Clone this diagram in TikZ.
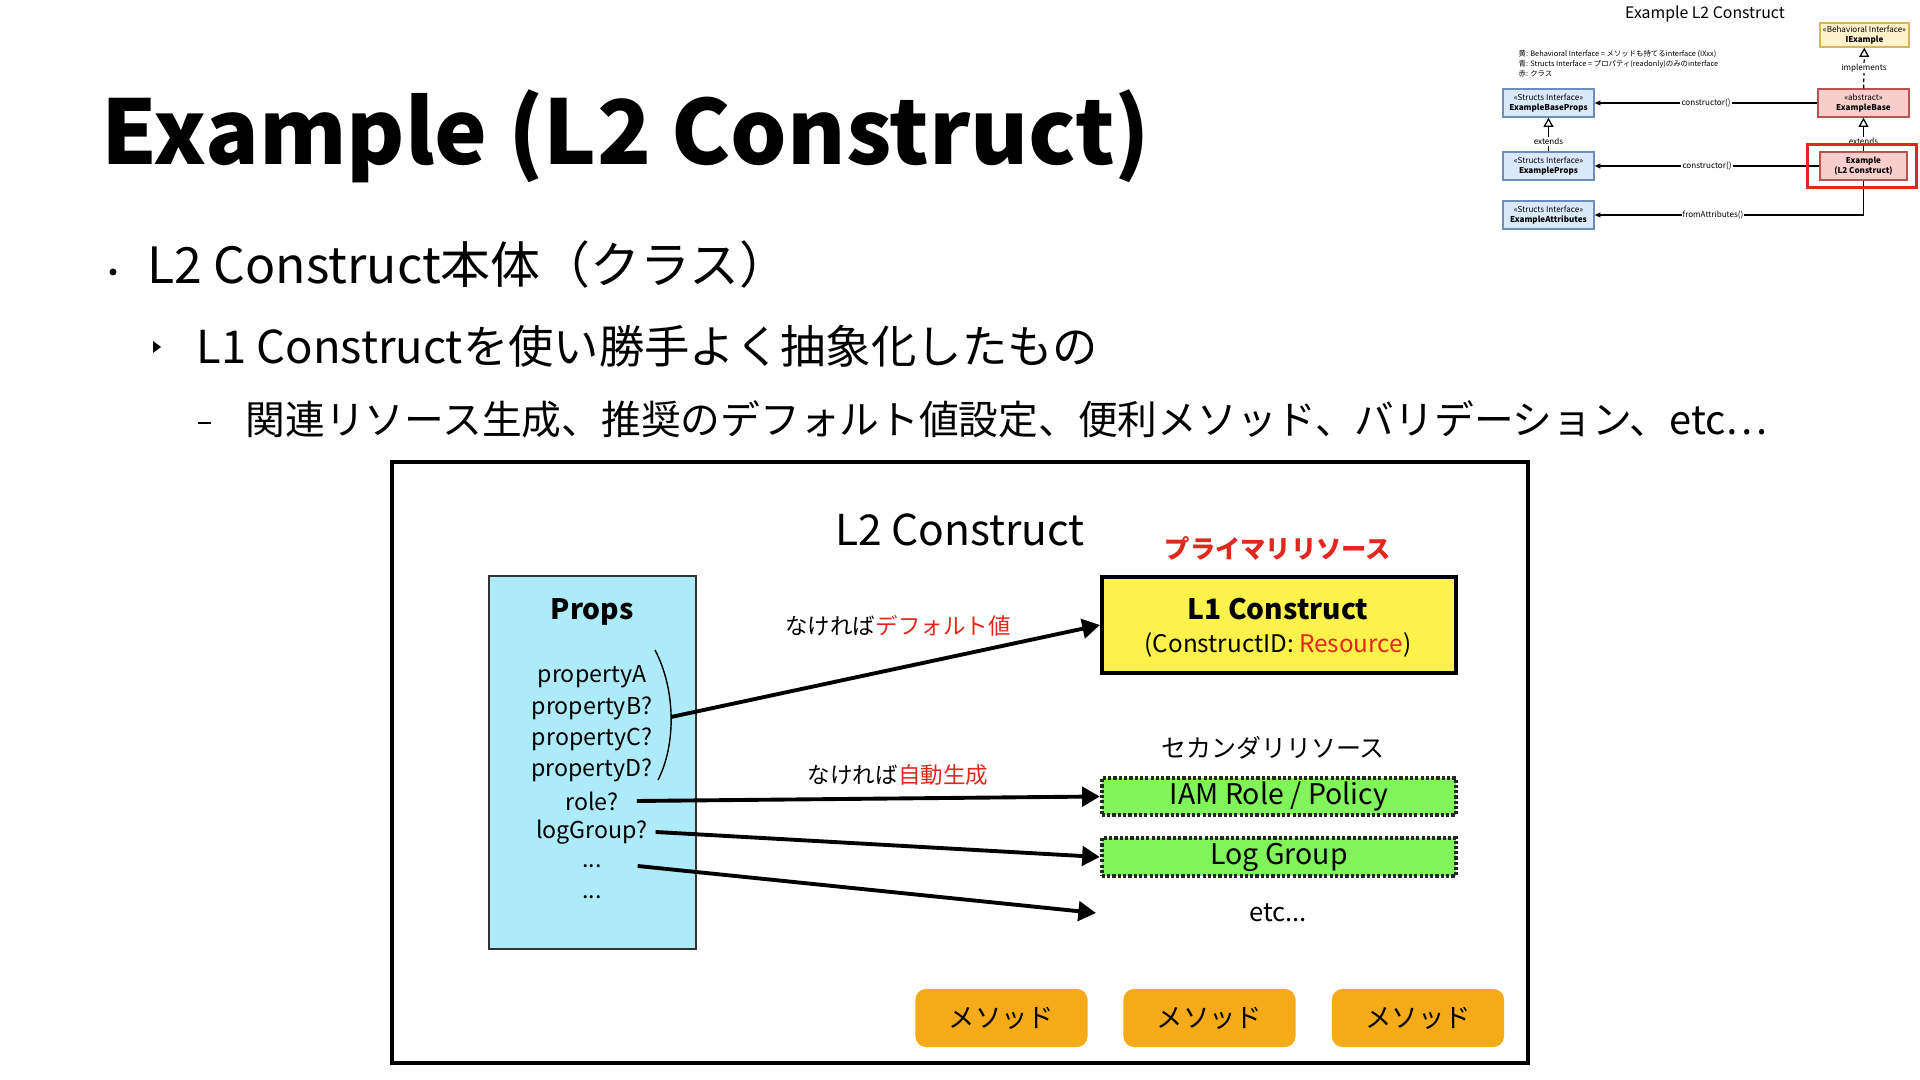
\documentclass[tikz,border=0pt]{standalone}
\usepackage{fontspec}
\setmainfont{Noto Sans CJK JP}
\usetikzlibrary{arrows.meta}
\definecolor{jred}{HTML}{E2271D}
\definecolor{propsfill}{HTML}{AEEBFA}
\definecolor{l1fill}{HTML}{FDF24B}
\definecolor{secgreen}{HTML}{80F55B}
\definecolor{methfill}{HTML}{F5AB17}
\definecolor{ifyellow}{HTML}{FFF2CC}
\definecolor{ifyellowd}{HTML}{D6B656}
\definecolor{ifblue}{HTML}{DAE8FC}
\definecolor{ifblued}{HTML}{6C8EBF}
\definecolor{clred}{HTML}{F8CECC}
\definecolor{clredd}{HTML}{B85450}
\definecolor{hlred}{HTML}{E0261E}
\begin{document}
\begin{tikzpicture}[x=0.01cm,y=-0.01cm,
  mbox/.style 2 args={draw=#2,fill=#1,line width=0.4bp,inner sep=0pt,
    minimum width=0.91cm,minimum height=0.28cm,align=center,
    font=\fontsize{2.3}{2.9}\selectfont},
  mlbl/.style={fill=white,inner sep=0.3bp,font=\fontsize{2.3}{2.3}\selectfont},
  marr/.style={line width=0.35bp,-{Triangle[length=1.6bp,width=1.4bp]}},
  mext/.style={line width=0.35bp,-{Triangle[fill=white,length=2.6bp,width=2.8bp]}},
  arr/.style={line width=1.1bp,-{Triangle[length=5bp,width=5.5bp]}},
  prop/.style={inner sep=0pt,font=\fontsize{6.6}{6.6}\selectfont},
  lbl/.style={inner sep=0pt,font=\fontsize{6.4}{6.4}\selectfont},
  secbox/.style={draw=black!85,fill=secgreen,line width=1.2bp,
    dash pattern=on 0.9bp off 0.6bp,minimum width=3.54cm,inner sep=0pt,
    font=\fontsize{8.1}{8.1}\selectfont},
  meth/.style={fill=methfill,rounded corners=3bp,minimum width=1.72cm,
    minimum height=0.58cm,inner sep=0pt,font=\fontsize{7.5}{7.5}\selectfont},
  line/.style={anchor=base west,inner sep=0pt}]%
% slide frame, coordinates are px of 1920x1080
\fill[white] (0,0) rectangle (1920,1080);
\useasboundingbox (0,0) rectangle (1920,1080);
\node[line,font=\fontsize{25.3}{25.3}\selectfont\bfseries] (ttl) at (101,165) {Example (L2 Construct)};
\fill (113,272) circle (3.5);
\node[line,font=\fontsize{14.2}{14.2}\selectfont] (lv1) at (147,284) {L2 Construct本体（クラス）};
\fill (153,341) -- (161,347) -- (153,353) -- cycle;
\node[line,font=\fontsize{12.9}{12.9}\selectfont] (lv2) at (196,364) {L1 Constructを使い勝手よく抽象化したもの};
\draw[line width=0.8bp] (198,423) -- (211,423);
\node[line,font=\fontsize{11.3}{11.3}\selectfont] (lv3) at (245,435) {関連リソース生成、推奨のデフォルト値設定、便利メソッド、バリデーション、etc…};
% L2 construct box
\draw[line width=1.1bp] (392,462) rectangle (1528,1063);
\node[font=\fontsize{12.1}{12.1}\selectfont] (l2t) at (960,530) {L2 Construct};
\node[text=jred,font=\fontsize{7.2}{7.2}\selectfont\bfseries] (prim) at (1278,549) {プライマリリソース};
\node[draw,fill=l1fill,line width=1.1bp,minimum width=3.54cm,minimum height=0.96cm] (l1) at (1279,625) {};
\node[font=\fontsize{8}{8}\selectfont\bfseries] (l1t) at (1278,609) {L1 Construct};
\node[font=\fontsize{6.9}{6.9}\selectfont] (l1id) at (1278,645) {(ConstructID: \textcolor{jred}{Resource})};
\node[font=\fontsize{7.1}{7.1}\selectfont] (sec) at (1273,748) {セカンダリリソース};
\node[secbox,minimum height=0.37cm] (iam) at (1279,796.5) {IAM Role / Policy};
\node[secbox,minimum height=0.38cm] (lgg) at (1279,857) {Log Group};
\node[font=\fontsize{7.3}{7.3}\selectfont] (etc) at (1278,913) {etc...};
% props
\node[draw=black!80,fill=propsfill,line width=0.6bp,minimum width=2.07cm,minimum height=3.73cm] (props) at (592.5,762.5) {};
\node[font=\fontsize{8}{8}\selectfont\bfseries] (propt) at (592,612) {Props};
\node[prop] (pa) at (592,677) {propertyA};
\node[prop] (pb) at (592,708) {propertyB?};
\node[prop] (pc) at (592,739) {propertyC?};
\node[prop] (pd) at (592,770) {propertyD?};
\node[prop] (role) at (592,801) {role?};
\node[prop] (lgp) at (592,832) {logGroup?};
\node[prop] (dta) at (592,866) {...};
\node[prop] (dtb) at (592,897) {...};
\coordinate (brka) at (655,650);
\coordinate (brkb) at (658,780);
\coordinate (brk) at (671,717);
\draw[line width=0.4bp] (brka) .. controls (676,690) and (676,745) .. (brkb);
% arrows
\draw[arr] (brk) -- (l1.west);
\draw[arr] ([xshift=5bp]role.east) -- (iam.west);
\draw[arr] ([xshift=2bp]lgp.east) -- (lgg.west);
\coordinate (etcend) at (1096,913);
\draw[arr] ([xshift=10bp]dta.east) -- (etcend);
\node[lbl] (dflt) at (898,626) {なければ\textcolor{jred}{デフォルト値}};
\node[lbl] (auto) at (898,775) {なければ\textcolor{jred}{自動生成}};
% methods
\node[meth] (m1) at (1001.5,1018) {メソッド};
\node[meth] (m2) at (1209.5,1018) {メソッド};
\node[meth] (m3) at (1418,1018) {メソッド};
% class diagram, top right
\node[font=\fontsize{4.5}{4.5}\selectfont] (mtt) at (1705,14) {Example L2 Construct};
\node[mbox={ifyellow}{ifyellowd},minimum width=0.89cm,minimum height=0.24cm] (iex) at (1864.5,35) {«Behavioral Interface»\\\textbf{IExample}};
\node[line,anchor=west,font=\fontsize{2.1}{2.1}\selectfont] (lg1) at (1518,54) {黄: Behavioral Interface = メソッドも持てるinterface (IXxx)};
\node[line,anchor=west,font=\fontsize{2.1}{2.1}\selectfont] (lg2) at (1518,64) {青: Structs Interface = プロパティ(readonly)のみのinterface};
\node[line,anchor=west,font=\fontsize{2.1}{2.1}\selectfont] (lg3) at (1518,74) {赤: クラス};
\node[mbox={ifblue}{ifblued}] (ebp) at (1548.5,103) {«Structs Interface»\\\textbf{ExampleBaseProps}};
\node[mbox={ifblue}{ifblued}] (ep) at (1548.5,166) {«Structs Interface»\\\textbf{ExampleProps}};
\node[mbox={ifblue}{ifblued}] (ea) at (1548.5,215) {«Structs Interface»\\\textbf{ExampleAttributes}};
\node[mbox={clred}{clredd}] (eb) at (1863.5,103) {«abstract»\\\textbf{ExampleBase}};
\node[mbox={clred}{clredd},minimum width=0.87cm] (ex) at (1863.5,166) {\textbf{Example}\\\textbf{(L2 Construct)}};
\draw[marr] (eb) -- node[mlbl]{constructor()} (ebp);
\draw[marr] (ex) -- node[mlbl]{constructor()} (ep);
\draw[marr] (ex.south) |- node[mlbl,pos=0.78]{fromAttributes()} (ea);
\draw[mext,dash pattern=on 1bp off 0.8bp] (eb) -- node[mlbl]{implements} (iex);
\draw[mext] (ep) -- node[mlbl,pos=0.3]{extends} (ebp);
\draw[mext] (ex) -- node[mlbl,pos=0.3]{extends} (eb);
\draw[hlred,line width=0.85bp] (1807,145) rectangle (1916,188);
\end{tikzpicture}
\end{document}
